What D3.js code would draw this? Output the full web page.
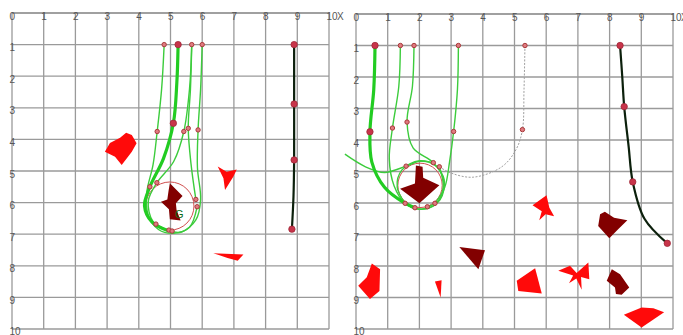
<!DOCTYPE html>
<html><head><meta charset="utf-8">
<script src="https://cdn.jsdelivr.net/npm/d3@7"></script>
<style>body{margin:0;background:#fff}svg{display:block}</style>
</head><body>
<svg id="c" width="683" height="335"></svg>
<script>
// ---------- DATA ----------
const xTickLabels = ["0","1","2","3","4","5","6","7","8","9","10"];
const yTickLabels = ["1","2","3","4","5","6","7","8","9","10"];
const axisName = "X";

// Left panel
const leftGoal = [4.98, 6.11, 0.76];
const leftGoalLabel = "G";
const leftThinPaths = [
  [[4.8,1.0],[4.72,2.4],[4.58,3.75],[4.45,4.8],[4.25,5.7],[4.3,6.4],[4.62,6.85],[5.1,6.97],[5.6,6.78],[5.84,6.13]],
  [[5.67,1.0],[5.6,2.4],[5.42,3.75],[5.1,4.7],[4.57,5.37],[4.3,5.95],[4.45,6.6],[4.95,6.87]],
  [[5.67,1.0],[5.63,2.4],[5.56,3.65],[5.65,4.8],[5.8,5.9]],
  [[6.0,1.0],[5.95,2.4],[5.87,3.7],[5.85,4.9],[5.95,5.9],[5.8,6.55],[5.35,6.93],[4.95,6.9]]
];
const leftThickPaths = [
  [[5.24,1.0],[5.2,2.2],[5.09,3.49],[4.78,4.6],[4.35,5.5],[4.18,6.1],[4.42,6.62],[4.95,6.9]]
];
const leftDarkPaths = [
  [[8.9,1.0],[8.9,2.88],[8.9,4.65],[8.88,5.8],[8.83,6.84]]
];
const leftDashPaths = [];
const leftSmallDots = [[4.8,1],[5.67,1],[6.0,1],[4.58,3.75],[5.42,3.75],[5.56,3.65],[5.87,3.7],
  [4.35,5.5],[4.57,5.37],[5.8,5.9],[5.84,6.13],[4.54,6.68],[4.95,6.87],[5.05,6.9]];
const leftBigDots = [[5.24,1],[5.09,3.49],[8.9,1],[8.9,2.88],[8.9,4.65],[8.83,6.84]];
const leftRedObstacles = [
  [[2.93,4.39],[3.09,4.11],[3.41,3.95],[3.6,3.79],[3.78,3.86],[3.93,4.12],[3.78,4.39],[3.46,4.81],[3.25,4.55]],
  [[6.49,4.86],[6.77,5.02],[7.09,4.95],[6.98,5.18],[6.72,5.6],[6.67,5.23]],
  [[6.35,7.6],[7.3,7.64],[7.12,7.84],[6.8,7.75]]
];
const leftDarkObstacles = [
  [[4.98,5.39],[5.38,5.79],[5.17,6.02],[5.19,6.23],[5.32,6.57],[4.98,6.53],[4.95,6.21],[4.7,5.97],[4.9,5.9],[4.94,5.62]]
];

// Right panel
const rightGoal = [2.02, 5.44, 0.7];
const rightThinPaths = [
  [[1.4,1],[1.35,2.3],[1.15,3.62],[1.05,4.6],[1.2,5.45],[1.55,6.01],[2.0,6.2],[2.5,6.05],[2.75,5.5],[2.63,4.85]],
  [[1.83,1],[1.78,2.3],[1.61,3.43],[1.8,4.25],[2.44,4.72],[2.78,5.25],[2.65,5.9],[2.25,6.12]],
  [[3.23,1],[3.2,2.4],[3.08,3.73],[2.95,4.7],[2.8,5.5],[2.49,6.01]],
  [[-0.35,4.45],[0.3,4.85],[0.9,5.03],[1.58,4.83],[2.0,4.68],[2.44,4.72]],
  [[1.55,6.01],[1.3,5.5],[1.45,4.95],[2.0,4.66],[2.55,4.85],[2.78,5.45],[2.5,6.05],[1.86,6.18],[1.55,6.01]]
];
const rightThickPaths = [
  [[0.6,1],[0.56,2.4],[0.44,3.74],[0.5,4.7],[0.9,5.5],[1.5,5.98],[1.86,6.15]]
];
const rightDarkPaths = [
  [[8.33,1],[8.4,2.0],[8.46,2.94],[8.6,4.2],[8.73,5.33],[9.1,6.5],[9.82,7.28]]
];
const rightDashPaths = [
  [[5.33,1],[5.3,2.4],[5.25,3.67],[5.05,4.3],[4.6,4.85],[3.7,5.18],[3.0,5.05],[2.63,4.85]]
];
const rightSmallDots = [[1.4,1],[1.83,1],[3.23,1],[5.33,1],[1.15,3.62],[1.61,3.43],[3.08,3.73],[5.25,3.67],
  [1.58,4.83],[2.44,4.72],[2.63,4.85],[1.55,6.01],[1.86,6.15],[2.25,6.12],[2.49,6.01]];
const rightBigDots = [[0.6,1],[0.44,3.74],[8.33,1],[8.46,2.94],[8.73,5.33],[9.82,7.28]];
const rightRedObstacles = [
  [[5.57,6.07],[6.01,5.75],[6.1,6.15],[6.25,6.42],[5.98,6.36],[5.78,6.55],[5.86,6.26]],
  [[0.07,8.63],[0.34,8.36],[0.5,7.92],[0.76,8.1],[0.74,8.79],[0.44,9.05]],
  [[2.49,8.49],[2.7,8.45],[2.67,9.0]],
  [[5.07,8.47],[5.65,8.07],[5.86,8.87],[5.12,8.79]],
  [[6.38,8.15],[6.75,7.99],[6.96,8.22],[7.33,7.89],[7.36,8.42],[7.1,8.35],[7.12,8.75],[6.95,8.4],[6.72,8.55],[6.85,8.3]],
  [[8.45,9.55],[9.01,9.32],[9.38,9.34],[9.72,9.47],[9.01,9.95]]
];
const rightDarkObstacles = [
  [[1.89,4.81],[2.1,4.85],[2.12,5.2],[2.63,5.44],[2.0,6.01],[1.39,5.55],[1.86,5.38]],
  [[7.7,6.36],[7.85,6.28],[8.14,6.47],[8.56,6.55],[8.27,6.83],[7.99,7.12],[7.64,6.73]],
  [[3.26,7.4],[4.07,7.5],[3.86,8.1]],
  [[8.07,8.1],[8.33,8.26],[8.62,8.68],[8.38,8.91],[8.2,8.89],[8.17,8.68],[7.91,8.47]]
];

// ---------- DRAW ----------
const svg = d3.select("#c");

function panel(cfg, d) {
  const x = d3.scaleLinear().domain([0,10]).range([cfg.x0, cfg.x1]);
  const y = d3.scaleLinear().domain([0,10]).range([cfg.y0, cfg.y1]);
  const g = svg.append("g");
  const ticks = d3.range(0, 11);

  // grid
  g.selectAll(".vg").data(ticks).join("line")
    .attr("x1", t => x(t)).attr("x2", t => x(t))
    .attr("y1", y(0)).attr("y2", y(10))
    .attr("stroke", "#9a9a9a").attr("stroke-width", 1.3);
  g.selectAll(".hg").data(ticks).join("line")
    .attr("x1", x(0)).attr("x2", x(10))
    .attr("y1", t => y(t)).attr("y2", t => y(t))
    .attr("stroke", t => t === 0 ? "#808080" : "#9a9a9a").attr("stroke-width", 1.3);

  // labels
  const font = "Liberation Sans, Arial, sans-serif";
  g.selectAll(".xl").data(xTickLabels).join("text")
    .attr("x", (s, i) => x(i) - 2.5).attr("y", y(0) + 6.5)
    .attr("font-family", font).attr("font-size", 10)
    .attr("fill", "#555").text(s => s);
  g.append("text").attr("x", x(10) + 8).attr("y", y(0) + 6.5)
    .attr("font-family", font).attr("font-size", 10)
    .attr("fill", "#555").text(axisName);
  g.selectAll(".yl").data(yTickLabels).join("text")
    .attr("x", x(0) - 2.5).attr("y", (s, i) => Math.min(y(i + 1) + 6.5, 334.5))
    .attr("font-family", font).attr("font-size", 10)
    .attr("fill", "#555").text(s => s);

  const poly = pts => "M" + pts.map(p => x(p[0]) + "," + y(p[1])).join("L") + "Z";
  g.selectAll(".ro").data(d.red).join("path").attr("d", poly).attr("fill", "#ff0a0a");
  g.selectAll(".do").data(d.dark).join("path").attr("d", poly).attr("fill", "#820000");

  // goal circle
  const kx = x(1) - x(0);
  g.append("circle").attr("cx", x(d.goal[0])).attr("cy", y(d.goal[1])).attr("r", d.goal[2] * kx)
    .attr("fill", "none").attr("stroke", "#d05050").attr("stroke-width", 1);
  if (d.label) {
    g.append("text").attr("x", x(d.goal[0] + 0.16)).attr("y", y(d.goal[1] + 0.38))
      .attr("font-family", font).attr("font-size", 11)
      .attr("fill", "#0a6a1a").text(d.label);
  }

  const line = d3.line().x(p => x(p[0])).y(p => y(p[1])).curve(d3.curveCatmullRom.alpha(0.5));
  g.selectAll(".dp").data(d.dash).join("path").attr("d", line)
    .attr("fill", "none").attr("stroke", "#a0a0a0").attr("stroke-width", 1).attr("stroke-dasharray", "2,1.5");
  g.selectAll(".tp").data(d.thin).join("path").attr("d", line)
    .attr("fill", "none").attr("stroke", "#3ccc3c").attr("stroke-width", 1.4);
  g.selectAll(".kp").data(d.thick).join("path").attr("d", line)
    .attr("fill", "none").attr("stroke", "#22cc22").attr("stroke-width", 3.2);
  g.selectAll(".bp").data(d.darkp).join("path").attr("d", line)
    .attr("fill", "none").attr("stroke", "#0c200c").attr("stroke-width", 2.2);

  g.selectAll(".sd").data(d.small).join("circle")
    .attr("cx", p => x(p[0])).attr("cy", p => y(p[1])).attr("r", 2.2)
    .attr("fill", "#e07a80").attr("stroke", "#a83a3a").attr("stroke-width", 1);
  g.selectAll(".bd").data(d.big).join("circle")
    .attr("cx", p => x(p[0])).attr("cy", p => y(p[1])).attr("r", 3.2)
    .attr("fill", "#c8344a").attr("stroke", "#a02838").attr("stroke-width", 0.8);
}

panel({x0:12, x1:329, y0:13, y1:329}, {
  goal: leftGoal, label: leftGoalLabel, thin: leftThinPaths, thick: leftThickPaths,
  darkp: leftDarkPaths, dash: leftDashPaths, small: leftSmallDots, big: leftBigDots,
  red: leftRedObstacles, dark: leftDarkObstacles
});
panel({x0:356, x1:673, y0:14, y1:329}, {
  goal: rightGoal, label: null, thin: rightThinPaths, thick: rightThickPaths,
  darkp: rightDarkPaths, dash: rightDashPaths, small: rightSmallDots, big: rightBigDots,
  red: rightRedObstacles, dark: rightDarkObstacles
});
</script>
</body></html>
